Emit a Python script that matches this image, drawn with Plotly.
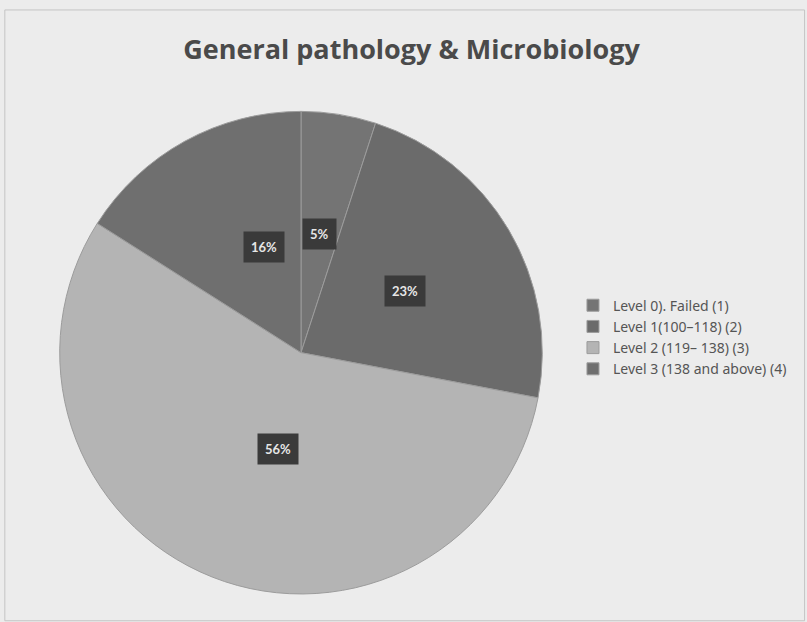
import math
import plotly.graph_objects as go

labels = ["Level 0). Failed (1)", "Level 1(100\u2013118) (2)", "Level 2 (119\u2013 138) (3)", "Level 3 (138 and above) (4)"]
values = [5, 23, 56, 16]
colors = ["#747474", "#6b6b6b", "#b4b4b4", "#6f6f6f"]
title = "General pathology & Microbiology"

dom_x = [0.074, 0.672]
dom_y = [0.035, 0.831]
W, H = 807, 622

fig = go.Figure(go.Pie(
    labels=labels, values=values, sort=False, direction="clockwise", rotation=0,
    marker=dict(colors=colors, line=dict(color="#9c9c9c", width=1)),
    textinfo="none", hoverinfo="label+percent",
    domain=dict(x=dom_x, y=dom_y),
))

# data labels (boxed), placed at mid-angle of each slice at half the radius
cx = (dom_x[0] + dom_x[1]) / 2 * W
cy = (dom_y[0] + dom_y[1]) / 2 * H
R = min((dom_x[1] - dom_x[0]) * W, (dom_y[1] - dom_y[0]) * H) / 2
total = sum(values)
cum = 0
for v in values:
    mid = (cum + v / 2) / total * 2 * math.pi
    cum += v
    px = cx + 0.5 * R * math.sin(mid)
    py = cy + 0.5 * R * math.cos(mid)
    fig.add_annotation(x=px / W, y=py / H, xref="paper", yref="paper",
                       text=f"<b>{round(v / total * 100)}%</b>", showarrow=False,
                       font=dict(color="#e6e6e6", size=13, family="Lato"),
                       bgcolor="#3a3a3a", borderpad=7)

fig.update_layout(
    width=W, height=H,
    margin=dict(l=0, r=0, t=0, b=0),
    paper_bgcolor="#ececec",
    title=dict(text=f"<b>{title}</b>", x=0.51, xanchor="center", y=0.92, yanchor="middle",
               font=dict(family="Open Sans", size=27, color="#4a4a4a")),
    legend=dict(x=0.71, y=0.458, xanchor="left", yanchor="middle",
                font=dict(family="Noto Sans", size=14, color="#555555"),
                bgcolor="rgba(0,0,0,0)", itemwidth=30),
    showlegend=True,
    shapes=[dict(type="rect", xref="paper", yref="paper", x0=0.006, y0=0.002, x1=0.997, y1=0.984,
                 line=dict(color="#c4c4c4", width=1), fillcolor="rgba(0,0,0,0)")],
)

fig.write_html("out.html", config={"displayModeBar": False},
               post_script="document.body.style.margin='0px';")
